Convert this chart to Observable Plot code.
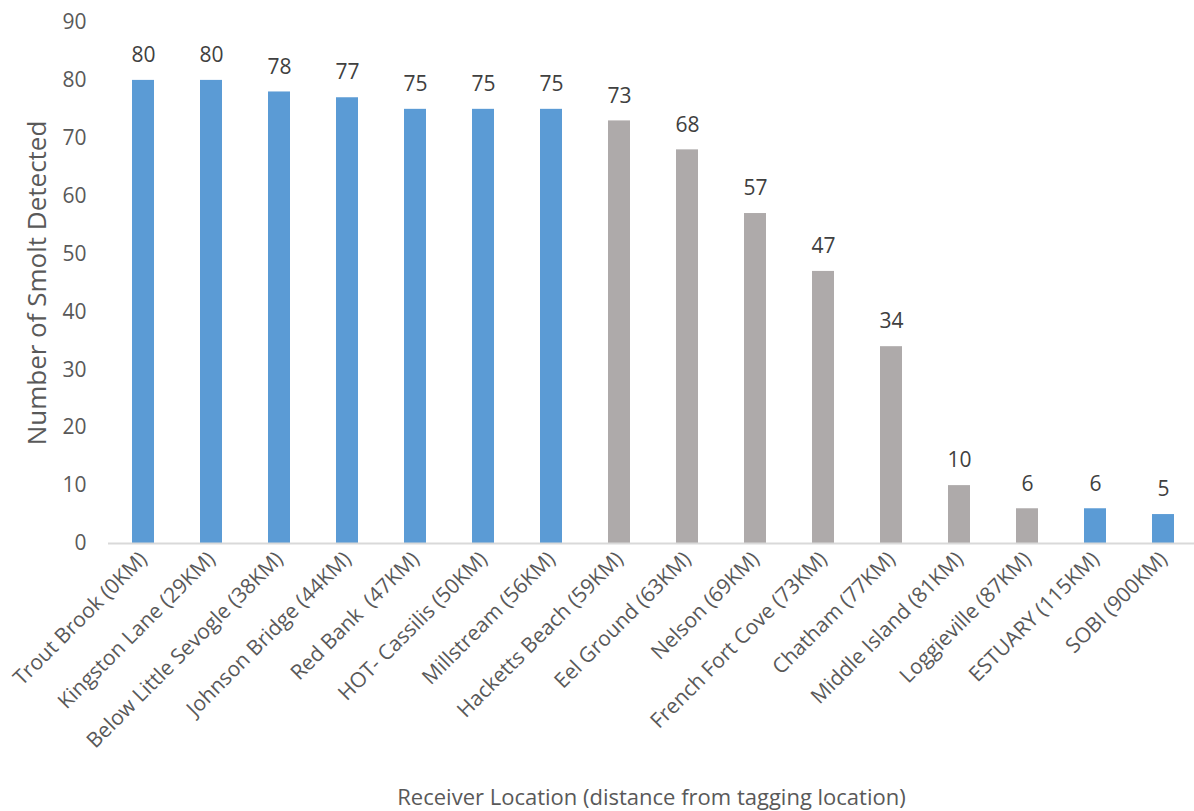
<!DOCTYPE html>
<html>
<head>
<meta charset="utf-8">
<script src="https://cdn.jsdelivr.net/npm/d3@7"></script>
<script src="https://cdn.jsdelivr.net/npm/@observablehq/plot@0.6"></script>
<style>
  html, body { margin: 0; padding: 0; background: #fff; }
  #chart svg { display: block; }
</style>
</head>
<body>
<div id="chart"></div>
<script>
const locations = [
  "Trout Brook (0KM)", "Kingston Lane (29KM)", "Below Little Sevogle (38KM)",
  "Johnson Bridge (44KM)", "Red Bank  (47KM)", "HOT- Cassilis (50KM)",
  "Millstream (56KM)", "Hacketts Beach (59KM)", "Eel Ground (63KM)",
  "Nelson (69KM)", "French Fort Cove (73KM)", "Chatham (77KM)",
  "Middle Island (81KM)", "Loggieville (87KM)", "ESTUARY (115KM)", "SOBI (900KM)"
];
const detected = [80, 80, 78, 77, 75, 75, 75, 73, 68, 57, 47, 34, 10, 6, 6, 5];
const group = ["river", "river", "river", "river", "river", "river", "river",
  "estuary", "estuary", "estuary", "estuary", "estuary", "estuary", "estuary",
  "river", "river"];
const yTicks = [0, 10, 20, 30, 40, 50, 60, 70, 80, 90];

const data = locations.map((loc, i) => ({loc, n: detected[i], g: group[i]}));

const chart = Plot.plot({
  width: 1194,
  height: 811,
  marginLeft: 108,
  marginRight: 0,
  marginTop: 22,
  marginBottom: 268,
  style: {fontFamily: "'Open Sans', sans-serif", background: "#fff"},
  x: {domain: locations, range: [108, 1198], paddingInner: 0.68, paddingOuter: 0.34, align: 0.5},
  y: {domain: [0, 90]},
  color: {domain: ["river", "estuary"], range: ["#5B9BD5", "#AEAAAA"]},
  marks: [
    Plot.barY(data, {x: "loc", y: "n", fill: "g"}),
    Plot.ruleY([0], {stroke: "#D9D9D9", strokeWidth: 2}),
    Plot.text(data, {x: "loc", y: "n", text: d => String(d.n), dy: -25,
      fontSize: 21, fill: "#404040"}),
    Plot.axisY({ticks: yTicks, tickSize: 0, tickPadding: 22, fontSize: 21,
      color: "#595959", label: null}),
    Plot.axisX({tickSize: 0, tickRotate: -45, tickPadding: 12, fontSize: 21,
      color: "#595959", label: null}),
    Plot.text(["Number of Smolt Detected"], {frameAnchor: "left", textAnchor: "middle",
      dx: -71, rotate: -90, fontSize: 26, fill: "#595959"}),
    Plot.text(["Receiver Location (distance from tagging location)"],
      {frameAnchor: "bottom", textAnchor: "middle", dy: 261, dx: 0, fontSize: 22, fill: "#595959"})
  ]
});
document.getElementById("chart").appendChild(chart);
</script>
</body>
</html>
